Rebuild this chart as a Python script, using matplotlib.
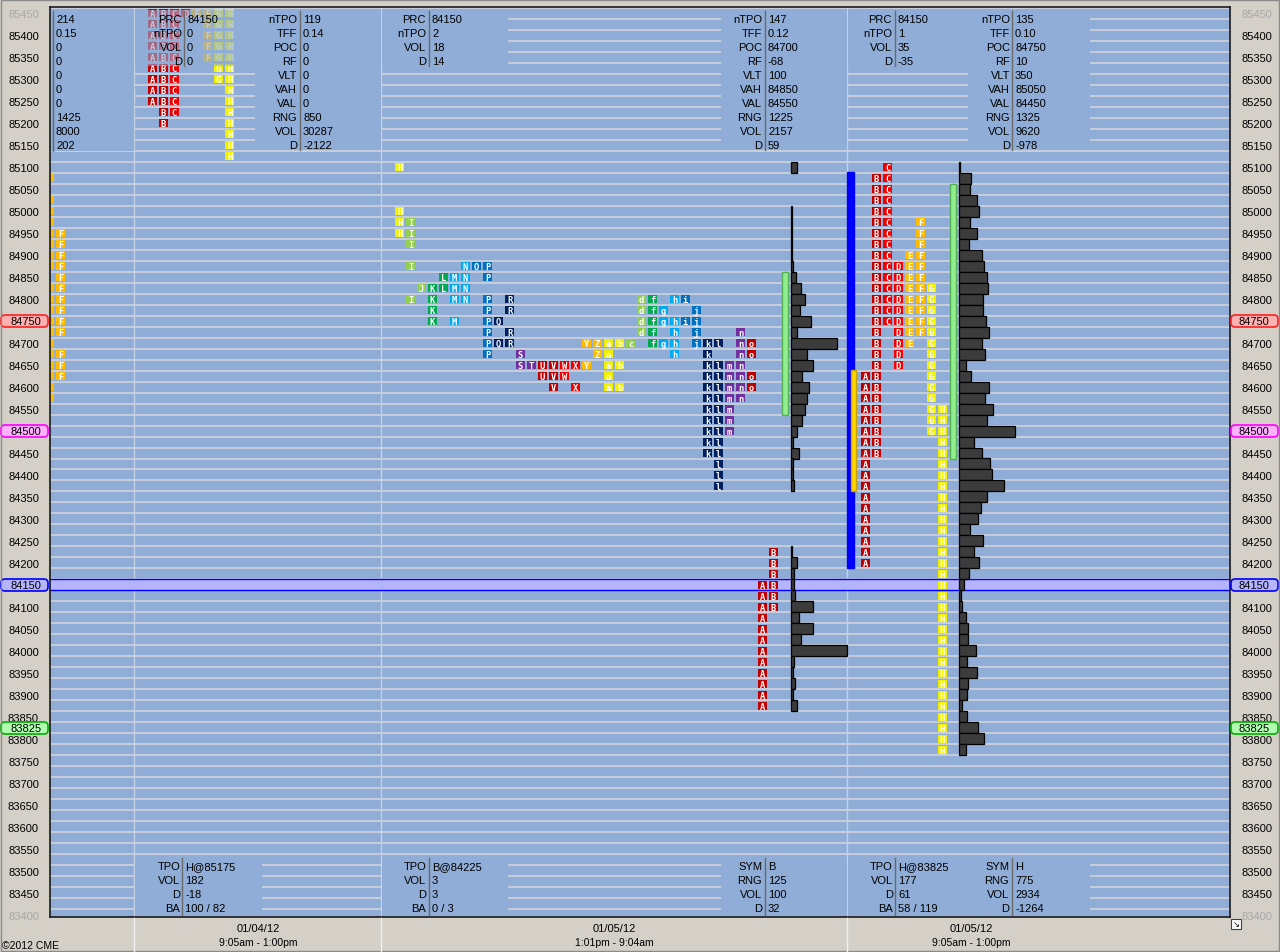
import matplotlib
matplotlib.use("Agg")
import matplotlib.pyplot as plt
from matplotlib.patches import Rectangle, FancyBboxPatch

plt.rcParams['font.family'] = ['Liberation Sans', 'DejaVu Sans']

# ---------------------------------------------------------------- data
def span(hi, lo):
    return list(range(hi, lo - 1, -25))

PRICE_TICKS = list(range(83400, 85451, 50))
GRID_PRICES = list(range(83400, 85451, 25))

# TPO letters -> prices
PREV_TPO = {
    "E": [85075] + span(85025, 84875) + span(84825, 84575),
    "F": span(84950, 84725) + span(84675, 84625),
}
S1_TPO = {
    "A": span(85450, 85250), "B": span(85450, 85200), "C": span(85450, 85225),
    "D": [85450], "E": [85450], "F": span(85450, 85350),
    "G": span(85450, 85300), "H": span(85450, 85125),
}
S2_TPO = {
    "H": [85100, 85000, 84975, 84950],
    "I": [84975, 84950, 84925, 84875, 84800],
    "J": [84825],
    "K": [84825, 84800, 84775, 84750],
    "L": [84850, 84825],
    "M": [84850, 84825, 84800, 84750],
    "N": [84875, 84850, 84825, 84800],
    "O": [84875],
    "P": [84875, 84850, 84800, 84775, 84750, 84725, 84700, 84675],
    "Q": [84750, 84700],
    "R": [84800, 84775, 84725, 84700],
    "S": [84675, 84650],
    "T": [84650],
    "U": [84650, 84625],
    "V": [84650, 84625, 84600],
    "W": [84650, 84625],
    "X": [84650, 84600],
    "Y": [84700, 84650],
    "Z": [84700, 84675],
    "a": [84700, 84675, 84650, 84625, 84600],
    "b": [84700, 84650, 84600],
    "c": [84700],
    "d": [84800, 84775, 84750, 84725],
    "f": [84800, 84775, 84750, 84725, 84700],
    "g": [84775, 84750, 84700],
    "h": [84800, 84750, 84725, 84700, 84675],
    "i": [84800, 84750],
    "j": [84775, 84750, 84725, 84700],
    "k": span(84700, 84450),
    "l": [84700] + span(84650, 84375),
    "m": span(84650, 84500),
    "n": span(84725, 84575),
    "o": [84700, 84675, 84625, 84600],
    "A2": span(84150, 83875),
    "B2": span(84225, 84100),
}
S2_ORDER = ["H", "I", "J", "K", "L", "M", "N", "O", "P", "Q", "R", "S", "T", "U",
            "V", "W", "X", "Y", "Z", "a", "b", "c", "d", "f", "g", "h", "i", "j",
            "k", "l", "m", "n", "o", "A2", "B2"]
S3_TPO = {
    "A": span(84625, 84200), "B": span(85075, 84450), "C": span(85100, 84750),
    "D": span(84875, 84650), "E": span(84900, 84700), "F": span(84975, 84725),
    "G": span(84825, 84500), "H": span(84550, 83775),
}

# volume profiles (relative volume per price)
S2_VOL_PRICES = [85100, 85000, 84975, 84950, 84925, 84900, 84875, 84850, 84825,
                 84800, 84775, 84750, 84725, 84700, 84675, 84650, 84625, 84600,
                 84575, 84550, 84525, 84500, 84475, 84450, 84425, 84400, 84375,
                 84225, 84200, 84175, 84150, 84125, 84100, 84075, 84050, 84025,
                 84000, 83975, 83950, 83925, 83900, 83875]
S2_VOL = [6, 1, 1, 1, 1, 1, 2, 5, 10, 14, 9, 20, 6, 46, 16, 22, 11, 18, 16, 14,
          11, 6, 2, 8, 2, 2, 3, 1, 6, 3, 3, 4, 22, 8, 22, 10, 56, 3, 2, 4, 2, 6]
S3_VOL_PRICES = span(85100, 83775)
S3_VOL = [1, 12, 11, 18, 20, 11, 18, 10, 23, 25, 28, 29, 24, 24, 27, 30, 23, 26,
          7, 12, 30, 26, 34, 28, 56, 15, 23, 31, 33, 45, 28, 22, 19, 11, 24, 15,
          20, 10, 5, 2, 3, 7, 9, 9, 17, 8, 18, 9, 8, 3, 8, 19, 25, 7]

S2_VALUE_AREA = (84550, 84850)
S3_VALUE_AREA = (84450, 85050)
S3_IB_RANGE = (84200, 85075)
S3_OPEN_RANGE = (84375, 84625)
MARKED_PRICE = 84150
HIGHLIGHT_PRICES = [84750, 84500, 84150, 83825]

# info panels
TOP_LABELS_4 = ["PRC", "nTPO", "VOL", "D"]
TOP_LABELS_10 = ["nTPO", "TFF", "POC", "RF", "VLT", "VAH", "VAL", "RNG", "VOL", "D"]
BOT_LABELS_TPO = ["TPO", "VOL", "D", "BA"]
BOT_LABELS_SYM = ["SYM", "RNG", "VOL", "D"]
PREV_VALUES = ["214", "0.15", "0", "0", "0", "0", "0", "1425", "8000", "202"]
S1_PRC = ["84150", "0", "0", "0"]
S1_STATS = ["119", "0.14", "0", "0", "0", "0", "0", "850", "30287", "-2122"]
S2_PRC = ["84150", "2", "18", "14"]
S2_STATS = ["147", "0.12", "84700", "-68", "100", "84850", "84550", "1225", "2157", "59"]
S3_PRC = ["84150", "1", "35", "-35"]
S3_STATS = ["135", "0.10", "84750", "10", "350", "85050", "84450", "1325", "9620", "-978"]
S1_BOT_TPO = ["H@85175", "182", "-18", "100 / 82"]
S2_BOT_TPO = ["B@84225", "3", "3", "0 / 3"]
S2_BOT_SYM = ["B", "125", "100", "32"]
S3_BOT_TPO = ["H@83825", "177", "61", "58 / 119"]
S3_BOT_SYM = ["H", "775", "2934", "-1264"]
SESSION_DATES = ["01/04/12", "01/05/12", "01/05/12"]
SESSION_TIMES = ["9:05am - 1:00pm", "1:01pm - 9:04am", "9:05am - 1:00pm"]

# ---------------------------------------------------------------- styles
C_RED1, C_RED2, C_ORG, C_YEL = "#c00000", "#f00000", "#ffbb00", "#f0f000"
C_YG, C_GRN, C_LB, C_BLU, C_NAV, C_PUR = "#92d050", "#00a850", "#00aaee", "#0070c0", "#002060", "#7030a0"
LETTER_COLORS = {
    "A": C_RED1, "B": C_RED1, "C": C_RED2, "D": C_RED2, "E": C_ORG, "F": C_ORG,
    "G": C_YEL, "H": C_YEL, "I": C_YG, "J": C_YG, "K": C_GRN, "L": C_GRN,
    "M": C_LB, "N": C_LB, "O": C_BLU, "P": C_BLU, "Q": C_NAV, "R": C_NAV,
    "S": C_PUR, "T": C_PUR, "U": C_RED1, "V": C_RED1, "W": C_RED2, "X": C_RED2,
    "Y": C_ORG, "Z": C_ORG, "a": C_YEL, "b": C_YEL, "c": C_YG, "d": C_YG,
    "f": C_GRN, "g": C_LB, "h": C_LB, "i": C_BLU, "j": C_BLU, "k": C_NAV,
    "l": C_NAV, "m": C_PUR, "n": C_PUR, "o": C_RED1, "A2": C_RED1, "B2": C_RED1,
}
BG = "#8fadd6"
FRAME = "#d4d0c8"
GRID = "#d6d8dc"

W, H = 1280, 953
AX_L, AX_R, AX_T, AX_B = 50, 1230, 8, 918


def px2p(y):
    return 85450 - (y - 14) / 0.44


fig = plt.figure(figsize=(W / 100, H / 100), dpi=100, facecolor=FRAME)
ax = fig.add_axes([AX_L / W, 1 - AX_B / H, (AX_R - AX_L) / W, (AX_B - AX_T) / H])
ax.set_facecolor(BG)
ax.set_xlim(AX_L, AX_R)
ax.set_ylim(px2p(AX_B), px2p(AX_T))
for s in ax.spines.values():
    s.set_color("#1a1a1a")
    s.set_linewidth(1.2)

# y ticks
ax.set_xticks([])
ax.set_yticks(PRICE_TICKS)
ax.set_yticklabels([str(p) for p in PRICE_TICKS])
ax.tick_params(axis="y", length=0, pad=8, labelsize=8, left=False, right=False,
               labelleft=True, labelright=True)
for t, p in zip(ax.yaxis.get_major_ticks(), PRICE_TICKS):
    for lab in (t.label1, t.label2):
        if p in (85450, 83400):
            lab.set_color("#a8a8a8")
        if p in HIGHLIGHT_PRICES:
            lab.set_visible(False)

# grid rows
ax.hlines([p + 12.5 for p in GRID_PRICES], AX_L, AX_R, color=GRID, lw=1.1, zorder=1)
for sx in (134, 381, 847):
    ax.axvline(sx, color="#c6d1e3", lw=1, zorder=1.2)

# marked price band
ax.axhspan(MARKED_PRICE - 12.5, MARKED_PRICE + 12.5, facecolor="#b4b4ff",
           edgecolor="none", zorder=1.6)
ax.axhline(MARKED_PRICE + 12.5, color="#0000ff", lw=1, zorder=1.65)
ax.axhline(MARKED_PRICE - 12.5, color="#0000ff", lw=1, zorder=1.65)


# panels (bg)
def panel_rect(x0, x1, y0, y1, overlay=False):
    r = Rectangle((x0, px2p(y1)), x1 - x0, px2p(y0) - px2p(y1), facecolor=BG,
                  edgecolor="none", zorder=1.5)
    ax.add_patch(r)
    if overlay:
        ax.add_patch(Rectangle((x0, px2p(y1)), x1 - x0, px2p(y0) - px2p(y1),
                               facecolor=BG, alpha=0.62, edgecolor="none", zorder=3))


TOP_PANELS = [  # x0, x1, rows, label_end, sep_x, values, labels
    (135, 262, 4, 182, 184, S1_PRC, TOP_LABELS_4),
    (255, 381, 10, 297, 300, S1_STATS, TOP_LABELS_10),
    (382, 508, 4, 426, 429, S2_PRC, TOP_LABELS_4),
    (721, 847, 10, 762, 765, S2_STATS, TOP_LABELS_10),
    (848, 968, 4, 892, 895, S3_PRC, TOP_LABELS_4),
    (968, 1090, 10, 1010, 1012, S3_STATS, TOP_LABELS_10),
]
BOT_PANELS = [
    (135, 262, 180, 182, S1_BOT_TPO, BOT_LABELS_TPO),
    (382, 508, 426, 429, S2_BOT_TPO, BOT_LABELS_TPO),
    (721, 847, 762, 765, S2_BOT_SYM, BOT_LABELS_SYM),
    (848, 968, 893, 895, S3_BOT_TPO, BOT_LABELS_TPO),
    (968, 1090, 1009, 1012, S3_BOT_SYM, BOT_LABELS_SYM),
]

panel_rect(AX_L, 134, 11, 152)
for x0, x1, n, le, sx, vals, labs in TOP_PANELS:
    panel_rect(x0, x1, 11, 11 + 14 * n, overlay=(x0 == 135))
for x0, x1, le, sx, vals, labs in BOT_PANELS:
    panel_rect(x0, x1, 860, 917)

# TPO boxes
BOX_W = 9


def draw_tpo(tpo, order, x_start):
    for i, key in enumerate(order):
        x = x_start + 11 * i
        col = LETTER_COLORS[key]
        letter = key[0]
        for p in tpo[key]:
            ax.add_patch(Rectangle((x, p - 10), BOX_W, 20, facecolor=col,
                                   edgecolor="none", zorder=2))
            if x >= AX_L:
                ax.text(x + BOX_W / 2, p - 0.5, letter, ha="center", va="center",
                        fontsize=6.3, color="white", family="DejaVu Sans Mono",
                        weight="bold", zorder=2.1)


draw_tpo(PREV_TPO, ["E", "F"], 45)
draw_tpo(S1_TPO, list("ABCDEFGH"), 148)
draw_tpo(S2_TPO, S2_ORDER, 395)
draw_tpo(S3_TPO, list("ABCDEFGH"), 861)

# volume profiles
ax.barh(S2_VOL_PRICES, S2_VOL, left=791, height=25, color="#3c3c3c",
        edgecolor="black", linewidth=0.9, zorder=2)
ax.barh(S3_VOL_PRICES, S3_VOL, left=959, height=25, color="#3c3c3c",
        edgecolor="black", linewidth=0.9, zorder=2)


# value area / IB / opening range bars
def vbar(x, w, rng, fc, ec):
    lo, hi = rng
    ax.add_patch(Rectangle((x, lo - 12.5), w, hi - lo + 25, facecolor=fc,
                           edgecolor=ec, lw=1, zorder=2.2))


vbar(782, 6, S2_VALUE_AREA, "#90ee90", "#55b055")
vbar(950, 6, S3_VALUE_AREA, "#90ee90", "#55b055")
vbar(847, 7, S3_IB_RANGE, "#0000ff", "#0000ff")
vbar(851, 5, S3_OPEN_RANGE, "#ffd700", "#c8a000")

# ---------------------------------------------------------------- text
ov = fig.add_axes([0, 0, 1, 1], zorder=5)
ov.set_xlim(0, W)
ov.set_ylim(H, 0)
ov.axis("off")
ov.patch.set_alpha(0)

for i, v in enumerate(PREV_VALUES):
    ov.text(56, 20 + 14 * i, v, fontsize=8, va="center", ha="left")
ov.plot([53, 53], [12, 152], color="#6a6a6a", lw=1)

for x0, x1, n, le, sx, vals, labs in TOP_PANELS:
    for i in range(n):
        ov.text(le, 20 + 14 * i, labs[i], fontsize=8, va="center", ha="right")
        ov.text(sx + 3, 20 + 14 * i, vals[i], fontsize=8, va="center", ha="left")
    ov.plot([sx, sx], [12, 12 + 14 * n - 1], color="#6a6a6a", lw=1)

for x0, x1, le, sx, vals, labs in BOT_PANELS:
    for i in range(4):
        ov.text(le, 867 + 14 * i, labs[i], fontsize=8, va="center", ha="right")
        ov.text(sx + 3, 867 + 14 * i, vals[i], fontsize=8, va="center", ha="left")
    ov.plot([sx, sx], [859, 916], color="#6a6a6a", lw=1)

# separators below plot
for sx in (134, 381, 847):
    ov.plot([sx, sx], [919, 953], color="#f0f0f0", lw=1)

# session labels
for cx, d, t in zip((258, 614, 971), SESSION_DATES, SESSION_TIMES):
    ov.text(cx, 929, d, fontsize=8, ha="center", va="center")
    ov.text(cx, 943, t, fontsize=7.5, ha="center", va="center")
ov.text(2, 946, "\u00a92012 CME", fontsize=7.5, ha="left", va="center")

# highlighted price labels
HL_STYLE = [("#ffb0b0", "#ff2020"), ("#ffb0ff", "#ff00ff"),
            ("#b4b4ff", "#0000ff"), ("#b0ffb0", "#00b000")]


def p2px(p):
    return 14 + (85450 - p) * 0.44


for p, (fc, ec) in zip(HIGHLIGHT_PRICES, HL_STYLE):
    yc = p2px(p)
    for bx, bw, tx in ((1, 47, 26), (1231, 47, 1254)):
        ov.add_patch(FancyBboxPatch((bx, yc - 6), bw, 12,
                                    boxstyle="round,pad=0,rounding_size=4",
                                    facecolor=fc, edgecolor=ec, lw=1.2))
        ov.text(tx, yc + 0.5, str(p), fontsize=8, ha="center", va="center")

# resize icon and outer border
ov.add_patch(Rectangle((1231, 920), 10, 10, facecolor="white", edgecolor="#404040", lw=0.8))
ov.text(1236, 925, "\u2198", fontsize=6, ha="center", va="center", family="DejaVu Sans")
ov.add_patch(Rectangle((0.5, 0.5), W - 1.5, H - 1.5, fill=False, edgecolor="#8a8a8a", lw=1))

fig.savefig("out.png", dpi=100, facecolor=FRAME)
